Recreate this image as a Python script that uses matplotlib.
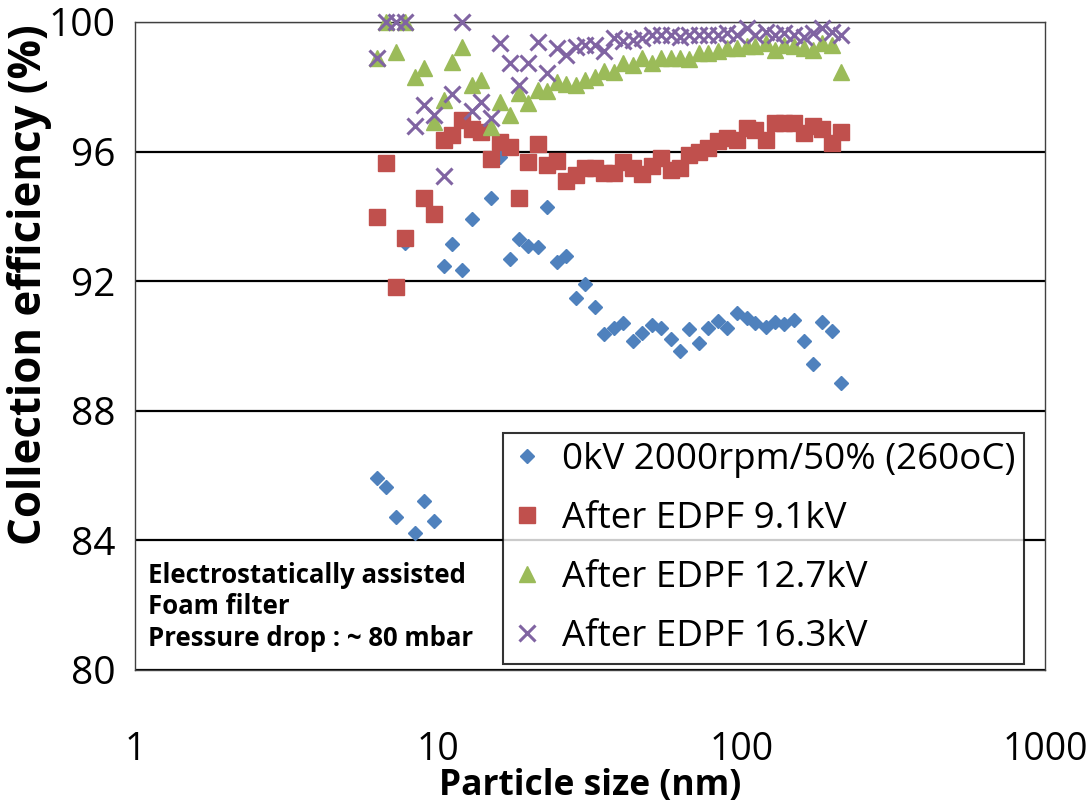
import numpy as np
import matplotlib
matplotlib.use("Agg")
import matplotlib.pyplot as plt

plt.rcParams['font.family'] = ['Open Sans', 'DejaVu Sans']

# particle size channels (nm)
size_nm = [6.26, 6.73, 7.23, 7.77, 8.35, 8.98, 9.65, 10.4, 11.1, 12.0,
           12.9, 13.8, 14.9, 16.0, 17.2, 18.4, 19.8, 21.3, 22.9, 24.6,
           26.4, 28.4, 30.5, 32.8, 35.2, 37.9, 40.7, 43.7, 47.0, 50.5,
           54.2, 58.3, 62.6, 67.3, 72.3, 77.7, 83.5, 89.8, 96.5, 104,
           111, 120, 129, 138, 149, 160, 172, 184, 198, 213]

eff_0kv = [85.93, 85.65, 84.72, 93.18, 84.23, 85.22, 84.60, 92.47, 93.15, 92.35,
           93.92, 96.60, 94.57, 95.83, 92.69, 93.30, 93.09, 93.06, 94.29, 92.59,
           92.78, 91.48, 91.91, 91.20, 90.37, 90.56, 90.71, 90.15, 90.40, 90.65,
           90.56, 90.22, 89.85, 90.52, 90.09, 90.56, 90.77, 90.56, 91.02, 90.86,
           90.71, 90.59, 90.74, 90.68, 90.80, 90.15, 89.44, 90.74, 90.46, 88.86]

eff_9kv = [93.99, 95.64, 91.83, 93.34, np.nan, 94.56, 94.07, 96.36, 96.51, 96.98,
           96.69, 96.61, 95.76, 96.31, 96.15, 94.56, 95.69, 96.22, 95.59, 95.72,
           95.10, 95.28, 95.50, 95.50, 95.33, 95.33, 95.68, 95.50, 95.30, 95.55,
           95.80, 95.43, 95.50, 95.90, 96.00, 96.12, 96.33, 96.41, 96.37, 96.72,
           96.67, 96.37, 96.87, 96.87, 96.87, 96.57, 96.80, 96.70, 96.26, 96.61]

eff_12kv = [98.88, 100.0, 99.08, 100.0, 98.31, 98.57, 96.92, 97.59, 98.77, 99.24,
            98.06, 98.21, 96.77, 97.54, 97.13, 97.80, 97.49, 97.90, 97.88, 98.14,
            98.09, 98.06, 98.21, 98.31, 98.50, 98.47, 98.72, 98.67, 98.88, 98.75,
            98.88, 98.88, 98.88, 98.85, 99.05, 99.05, 99.10, 99.20, 99.20, 99.25,
            99.25, 99.34, 99.14, 99.30, 99.25, 99.20, 99.15, 99.35, 99.30, 98.47]

eff_16kv = [98.88, 100.0, 100.0, 100.0, 96.79, 97.44, 97.13, 95.26, 97.78, 100.0,
            97.26, 97.54, 97.03, 99.34, 98.74, 98.06, 98.74, 99.39, 98.42, 99.19,
            98.98, 99.24, 99.29, 99.29, 99.10, 99.50, 99.40, 99.45, 99.50, 99.60,
            99.60, 99.60, 99.55, 99.60, 99.60, 99.60, 99.60, 99.65, 99.60, 99.80,
            99.60, 99.70, 99.60, 99.65, 99.60, 99.55, 99.65, 99.80, 99.70, 99.60]

labels = ["0kV 2000rpm/50% (260oC)", "After EDPF 9.1kV",
          "After EDPF 12.7kV", "After EDPF 16.3kV"]

fig = plt.figure(figsize=(10.88, 8.10), dpi=100)
ax = fig.add_axes([135 / 1088, 1 - 670 / 810, 910 / 1088, 648 / 810])

ax.plot(size_nm, eff_0kv, linestyle="none", marker="D", ms=7.6,
        color="#4F81BD", mec="#4F81BD", label=labels[0], clip_on=False, zorder=3)
ax.plot(size_nm, eff_9kv, linestyle="none", marker="s", ms=11.5,
        color="#C0504D", mec="#C0504D", label=labels[1], clip_on=False, zorder=4)
ax.plot(size_nm, eff_12kv, linestyle="none", marker="^", ms=12,
        color="#9BBB59", mec="#9BBB59", label=labels[2], clip_on=False, zorder=5)
ax.plot(size_nm, eff_16kv, linestyle="none", marker="x", ms=11.5, mew=2.2,
        color="#8064A2", label=labels[3], clip_on=False, zorder=6)

ax.set_xscale("log")
ax.set_xlim(1, 1000)
ax.set_ylim(80, 100)
ax.set_xticks([1, 10, 100, 1000])
ax.set_xticklabels(["1", "10", "100", "1000"])
ax.xaxis.set_minor_locator(matplotlib.ticker.NullLocator())
ax.set_yticks([80, 84, 88, 92, 96, 100])
ax.tick_params(axis="x", length=0, pad=44, labelsize=27)
ax.tick_params(axis="y", length=0, pad=14, labelsize=28)

ax.yaxis.grid(True, color="black", linewidth=1.6)
ax.set_axisbelow(True)
for s in ax.spines.values():
    s.set_color("#404040")
    s.set_linewidth(1.0)

fig.text(590 / 1088, 1 - 786 / 810, "Particle size (nm)", fontsize=25.5,
         fontweight="bold", ha="center", va="center")
fig.text(30 / 1088, 1 - 285 / 810, "Collection efficiency (%)", fontsize=31.5,
         fontweight="bold", ha="center", va="center", rotation=90)

ax.text(148 / 1088, 1 - 607 / 810,
        "Electrostatically assisted\nFoam filter\nPressure drop : ~ 80 mbar",
        transform=fig.transFigure, fontsize=18.5, fontweight="bold",
        va="center", ha="left", linespacing=1.22, zorder=7)

leg = ax.legend(loc="lower left", bbox_to_anchor=(503 / 1088, 1 - 664 / 810),
                bbox_transform=fig.transFigure, fontsize=26.5, frameon=True,
                fancybox=False, edgecolor="black", borderpad=0.25,
                labelspacing=0.62, handlelength=0.8, handletextpad=0.55,
                borderaxespad=0)
leg.get_frame().set_linewidth(1.5)
leg.set_zorder(8)

fig.savefig("out.png", dpi=100)
